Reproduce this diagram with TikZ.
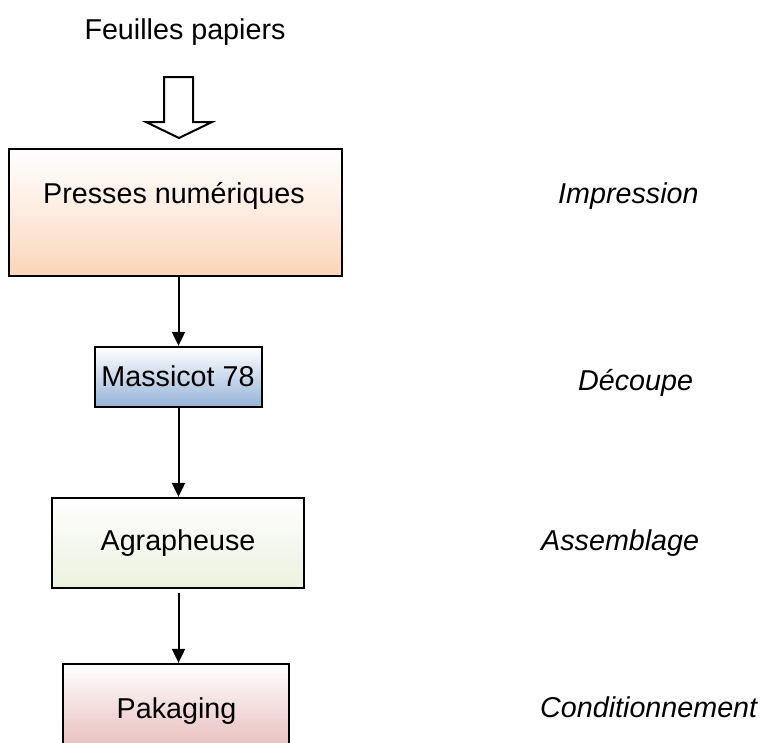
\documentclass[tikz,border=0pt]{standalone}
\usepackage{fontspec}
\setmainfont{Liberation Sans}
\usetikzlibrary{arrows.meta}
\definecolor{peach}{HTML}{FBD5B9}
\definecolor{steel}{HTML}{95B3D7}
\definecolor{sage}{HTML}{EBF1DE}
\definecolor{rose}{HTML}{E6B9B8}
\begin{document}
\begin{tikzpicture}[x=1pt,y=-1pt,
  stage/.style={draw=black, line width=2.3pt, inner sep=0pt},
  lbl/.style={font=\fontsize{28.7}{34}\selectfont, inner sep=0pt, anchor=base},
  phase/.style={font=\fontsize{28.7}{34}\selectfont\itshape, inner sep=0pt, anchor=base west},
  conn/.style={line width=2pt, -{Triangle[width=13pt,length=14pt]}},
]
\useasboundingbox (0,0) rectangle (765,742);
\clip (0,0) rectangle (765,742);

% input
\node[lbl] (input) at (185,39) {Feuilles papiers};
\draw[line width=2pt, fill=white, line join=miter]
  (164,77) -- (193,77) -- (193,122) -- (212,122) -- (179,138)
  -- (146,122) -- (164,122) -- cycle;

% stages
\node[stage, top color=white, bottom color=peach, middle color=peach!45,
      minimum width=333pt, minimum height=127pt] (b1) at (175.5,212.5) {};
\node[lbl] (t1) at (174,203) {Presses numériques};

\node[stage, top color=white, bottom color=steel,
      minimum width=167pt, minimum height=60pt] (b2) at (178.5,377) {};
\node[lbl] (t2) at (178,386) {Massicot 78};

\node[stage, top color=white, bottom color=sage,
      minimum width=252pt, minimum height=90pt] (b3) at (178,543) {};
\node[lbl] (t3) at (178,550) {Agrapheuse};

\node[stage, top color=white, bottom color=rose,
      minimum width=226pt, minimum height=90pt] (b4) at (176,709) {};
\node[lbl] (t4) at (176.5,718) {Pakaging};

% connectors
\draw[conn] (b1.south -| b2.north) -- (b2.north);
\draw[conn] (b2.south) -- (b3.north -| b2.south);
\draw[conn, shorten <=4pt] (b3.south -| b2.south) -- (b4.north -| b2.south);

% phases
\node[phase] (p1) at (558,203) {Impression};
\node[phase] (p2) at (578,390) {Découpe};
\node[phase] (p3) at (541,550) {Assemblage};
\node[phase] (p4) at (540,717) {Conditionnement};
\end{tikzpicture}
\end{document}
